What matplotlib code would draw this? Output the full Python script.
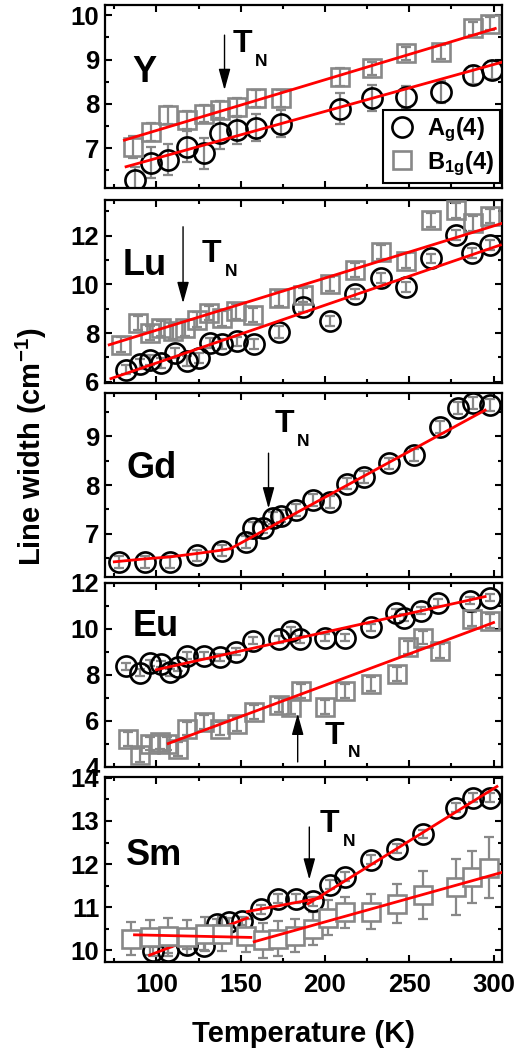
import numpy as np
import matplotlib
matplotlib.use('Agg')
import matplotlib.pyplot as plt
from matplotlib.ticker import MultipleLocator

plt.rcParams['font.family'] = ['Liberation Sans', 'DejaVu Sans']
plt.rcParams['font.weight'] = 'bold'
plt.rcParams['mathtext.fontset'] = 'custom'
plt.rcParams['mathtext.rm'] = 'Liberation Sans:bold'
plt.rcParams['mathtext.it'] = 'Liberation Sans:bold'
plt.rcParams['mathtext.bf'] = 'Liberation Sans:bold'

# ---- Y ----
y_T_a = [87, 97, 107, 118, 128, 138, 148, 159, 174, 209, 228, 248, 269, 288, 299]
y_w_a = [6.28, 6.67, 6.74, 7.03, 6.88, 7.33, 7.40, 7.46, 7.55, 7.89, 8.13, 8.16, 8.27, 8.65, 8.76]
y_e_a = [0.3, 0.35, 0.35, 0.35, 0.35, 0.35, 0.3, 0.3, 0.3, 0.35, 0.3, 0.25, 0.25, 0.2, 0.2]
y_T_b = [86, 97, 107, 118, 128, 138, 148, 159, 174, 209, 228, 248, 269, 288, 298]
y_w_b = [7.03, 7.37, 7.74, 7.63, 7.78, 7.86, 7.93, 8.12, 8.12, 8.61, 8.80, 9.14, 9.17, 9.70, 9.81]
y_e_b = [0.25, 0.2, 0.2, 0.2, 0.2, 0.2, 0.2, 0.2, 0.2, 0.2, 0.15, 0.15, 0.15, 0.15, 0.15]
y_fits = [([82, 306], [6.58, 8.95]), ([81, 301], [7.18, 9.70])]

# ---- Lu ----
lu_T_a = [82, 90, 96, 103, 111, 118, 125, 132, 139, 148, 158, 173, 187, 203, 218, 233, 248, 263, 278, 287, 298]
lu_w_a = [6.50, 6.74, 6.91, 6.77, 7.18, 6.84, 6.98, 7.59, 7.56, 7.66, 7.56, 8.05, 9.08, 8.50, 9.61, 10.25, 9.91, 11.07, 12.03, 11.28, 11.62]
lu_e_a = [0.2, 0.2, 0.2, 0.2, 0.2, 0.2, 0.2, 0.2, 0.2, 0.2, 0.2, 0.25, 0.2, 0.2, 0.2, 0.2, 0.2, 0.2, 0.2, 0.2, 0.2]
lu_T_b = [79, 89, 96, 103, 110, 117, 124, 131, 139, 147, 157, 173, 187, 203, 218, 233, 248, 263, 278, 288, 298]
lu_w_b = [7.52, 8.41, 8.00, 8.20, 8.07, 8.20, 8.55, 8.82, 8.61, 8.89, 8.75, 9.43, 9.57, 10.02, 10.59, 11.34, 10.98, 12.64, 13.05, 12.51, 12.81]
lu_e_b = [0.3, 0.3, 0.3, 0.3, 0.3, 0.3, 0.3, 0.3, 0.3, 0.3, 0.3, 0.3, 0.3, 0.3, 0.3, 0.3, 0.3, 0.3, 0.3, 0.3, 0.3]
lu_fits = [([73, 304], [6.13, 11.62]), ([72, 305], [7.52, 12.51])]

# ---- Gd ----
gd_T_a = [78, 93, 108, 124, 139, 153, 157, 163, 169, 174, 183, 193, 203, 213, 223, 238, 253, 268, 279, 288, 298]
gd_w_a = [6.43, 6.43, 6.42, 6.56, 6.66, 6.84, 7.12, 7.13, 7.32, 7.37, 7.49, 7.69, 7.66, 8.03, 8.17, 8.44, 8.61, 9.19, 9.57, 9.67, 9.63]
gd_e_a = [0.12, 0.12, 0.12, 0.12, 0.12, 0.12, 0.12, 0.12, 0.12, 0.12, 0.12, 0.12, 0.12, 0.12, 0.12, 0.12, 0.12, 0.12, 0.12, 0.12, 0.12]
gd_fits = [([75, 93, 108, 124, 139, 144], [6.43, 6.49, 6.53, 6.60, 6.67, 6.70]),
           ([144, 295], [6.70, 9.53])]

# ---- Eu ----
eu_T_a = [82, 90, 96, 103, 108, 113, 118, 128, 138, 147, 157, 173, 180, 185, 200, 212, 227, 242, 247, 257, 267, 286, 298]
eu_w_a = [8.38, 8.09, 8.52, 8.48, 8.12, 8.33, 8.84, 8.84, 8.77, 9.01, 9.49, 9.56, 9.92, 9.56, 9.63, 9.63, 10.07, 10.71, 10.50, 10.79, 11.15, 11.22, 11.36]
eu_e_a = [0.15, 0.15, 0.15, 0.15, 0.15, 0.15, 0.15, 0.15, 0.15, 0.15, 0.15, 0.15, 0.15, 0.15, 0.15, 0.15, 0.15, 0.15, 0.15, 0.15, 0.15, 0.15, 0.15]
eu_T_b = [83, 90, 96, 102, 106, 113, 118, 128, 138, 148, 158, 173, 180, 186, 200, 212, 227, 243, 249, 258, 268, 287, 298]
eu_w_b = [5.23, 4.51, 5.02, 5.09, 5.02, 4.80, 5.67, 5.95, 5.67, 5.88, 6.38, 6.68, 6.60, 7.32, 6.60, 7.32, 7.61, 8.04, 9.20, 9.63, 9.06, 10.43, 10.35]
eu_e_b = [0.3, 0.3, 0.3, 0.3, 0.3, 0.3, 0.3, 0.3, 0.3, 0.3, 0.3, 0.3, 0.3, 0.3, 0.3, 0.3, 0.3, 0.3, 0.3, 0.3, 0.3, 0.3, 0.3]
eu_fits = [([100, 295], [8.23, 11.41]), ([107, 300], [5.02, 10.28])]

# ---- Sm ----
sm_T_a = [98, 107, 118, 128, 136, 143, 151, 162, 172, 183, 193, 203, 212, 227, 243, 258, 278, 288, 298]
sm_w_a = [9.98, 9.98, 10.12, 10.10, 10.62, 10.65, 10.68, 10.95, 11.20, 11.20, 11.14, 11.52, 11.71, 12.10, 12.36, 12.70, 13.31, 13.54, 13.54]
sm_e_a = [0.1, 0.1, 0.1, 0.1, 0.1, 0.1, 0.1, 0.1, 0.1, 0.1, 0.1, 0.1, 0.1, 0.1, 0.1, 0.1, 0.1, 0.1, 0.1]
sm_T_b = [85, 96, 107, 118, 129, 139, 153, 163, 172, 182, 193, 202, 212, 227, 243, 258, 278, 287, 297]
sm_w_b = [10.27, 10.30, 10.34, 10.30, 10.38, 10.38, 10.34, 10.23, 10.27, 10.34, 10.50, 10.76, 10.88, 10.90, 11.08, 11.28, 11.48, 11.70, 11.92]
sm_e_b = [0.38, 0.4, 0.4, 0.4, 0.4, 0.4, 0.38, 0.4, 0.4, 0.38, 0.38, 0.4, 0.35, 0.4, 0.45, 0.55, 0.65, 0.6, 0.7]
sm_fit_hidden = ([96, 154], [9.89, 10.75])
sm_fits = [([87, 156], [10.36, 10.30]), ([154, 198], [10.90, 11.22]),
           ([190, 302], [11.08, 13.80]), ([158, 307], [10.20, 11.83])]

names = ['Y', 'Lu', 'Gd', 'Eu', 'Sm']
name_pos = [(86, 8.49), (80, 10.39), (82, 8.14), (86, 9.71), (82, 11.98)]
tn_pos = [(145, 9.16), (127, 10.93), (170, 9.09), (200, 5.02), (197, 12.74)]
arrows = [(140.4, 9.55, 8.31), (115.8, 12.37, 9.23), (166.5, 8.65, 7.52),
          (183.8, 4.22, 6.32), (190.7, 12.86, 11.64)]
ylims = [(6.1, 10.23), (5.95, 13.47), (6.12, 9.88), (4, 12), (9.73, 14.02)]
major = [1, 2, 1, 2, 1]
minor = [0.5, 1, 0.5, 1, 0.5]

# panel extents in pixels (top, bottom)
panels_px = [(5, 188), (200, 383), (393, 577), (583, 767), (777, 962)]
W, H = 515, 1054

fig = plt.figure(figsize=(W / 100, H / 100), dpi=100)
axes = []
for top, bot in panels_px:
    axes.append(fig.add_axes([105 / W, 1 - bot / H, (502 - 105) / W, (bot - top) / H]))

grey = '#888888'
ebkw = dict(fmt='none', ecolor=grey, elinewidth=1.6, capsize=3.5, capthick=1.6, zorder=2)
circ = dict(ls='none', marker='o', ms=14.5, mfc='none', mec='black', mew=1.9, zorder=3)
sq = dict(ls='none', marker='s', ms=13.5, mfc='none', mec=grey, mew=1.9, zorder=3)
red = dict(color='red', lw=2, zorder=5)

# Y
ax = axes[0]
ax.errorbar(y_T_a, y_w_a, yerr=y_e_a, **ebkw)
ax.errorbar(y_T_b, y_w_b, yerr=y_e_b, **ebkw)
la, = ax.plot(y_T_a, y_w_a, label=r'A$_\mathrm{g}$(4)', **circ)
lb, = ax.plot(y_T_b, y_w_b, label=r'B$_\mathrm{1g}$(4)', **sq)
for fx, fy in y_fits:
    ax.plot(fx, fy, **red)
leg = ax.legend(handles=[la, lb], loc='lower right', bbox_to_anchor=(0.995, 0.025),
                borderaxespad=0, fontsize=17, frameon=True, fancybox=False,
                edgecolor='black', handletextpad=0.5, labelspacing=0.2,
                borderpad=0.25, handlelength=1.1, framealpha=1)
leg.get_frame().set_linewidth(1.5)

# Lu
ax = axes[1]
ax.errorbar(lu_T_a, lu_w_a, yerr=lu_e_a, **ebkw)
ax.errorbar(lu_T_b, lu_w_b, yerr=lu_e_b, **ebkw)
ax.plot(lu_T_a, lu_w_a, **circ)
ax.plot(lu_T_b, lu_w_b, **sq)
for fx, fy in lu_fits:
    ax.plot(fx, fy, **red)

# Gd
ax = axes[2]
ax.errorbar(gd_T_a, gd_w_a, yerr=gd_e_a, **ebkw)
ax.plot(gd_T_a, gd_w_a, **circ)
for fx, fy in gd_fits:
    ax.plot(fx, fy, **red)

# Eu
ax = axes[3]
ax.errorbar(eu_T_a, eu_w_a, yerr=eu_e_a, **ebkw)
ax.errorbar(eu_T_b, eu_w_b, yerr=eu_e_b, **ebkw)
ax.plot(eu_T_a, eu_w_a, **circ)
ax.plot(eu_T_b, eu_w_b, **sq)
for fx, fy in eu_fits:
    ax.plot(fx, fy, **red)

# Sm
ax = axes[4]
ax.errorbar(sm_T_a, sm_w_a, yerr=sm_e_a, **ebkw)
ax.errorbar(sm_T_b, sm_w_b, yerr=sm_e_b, **ebkw)
ax.plot(sm_T_a, sm_w_a, **circ)
ax.plot(sm_fit_hidden[0], sm_fit_hidden[1], color='red', lw=2, zorder=3.2)
ax.plot(sm_T_b, sm_w_b, **dict(sq, mfc='white', zorder=3.5))
for fx, fy in sm_fits:
    ax.plot(fx, fy, **red)

for i, ax in enumerate(axes):
    ax.set_xlim(69.5, 305)
    ax.set_ylim(*ylims[i])
    ax.xaxis.set_major_locator(MultipleLocator(50))
    ax.xaxis.set_minor_locator(MultipleLocator(25))
    ax.yaxis.set_major_locator(MultipleLocator(major[i]))
    ax.yaxis.set_minor_locator(MultipleLocator(minor[i]))
    ax.tick_params(which='both', direction='in', top=True, right=True, width=1.5)
    ax.tick_params(which='major', length=5)
    ax.tick_params(which='minor', length=3)
    ax.tick_params(axis='y', labelsize=18.5, pad=4)
    ax.tick_params(axis='x', labelsize=18.5, pad=8)
    for sp in ax.spines.values():
        sp.set_linewidth(1.6)
    if i < 4:
        ax.tick_params(axis='x', labelbottom=False)
    for lab in ax.get_xticklabels() + ax.get_yticklabels():
        lab.set_fontweight('bold')

    nx, ny = name_pos[i]
    ax.text(nx, ny, names[i], fontsize=26, fontweight='bold', ha='left', va='baseline', zorder=6)
    tx, ty = tn_pos[i]
    ax.text(tx, ty, 'T', fontsize=23, fontweight='bold', ha='left', va='baseline', zorder=6)
    ax.annotate('N', xy=(tx, ty), xytext=(16.5, -10), textcoords='offset points',
                fontsize=12.5, fontweight='bold', ha='left', va='baseline', zorder=6)
    ax_, a0, a1 = arrows[i]
    ax.annotate('', xy=(ax_, a1), xytext=(ax_, a0),
                arrowprops=dict(arrowstyle='-|>,head_length=1.3,head_width=0.36',
                                color='black', lw=1, shrinkA=0, shrinkB=0,
                                mutation_scale=10), zorder=6)

fig.text(31 / W, 1 - 447 / H, r'Line width (cm$^{-1}$)', rotation=90,
         ha='center', va='center', fontsize=21, fontweight='bold')
fig.text(303 / W, 1 - 1034 / H, 'Temperature (K)', ha='center', va='center',
         fontsize=21, fontweight='bold')

fig.savefig('out.png', dpi=100)
